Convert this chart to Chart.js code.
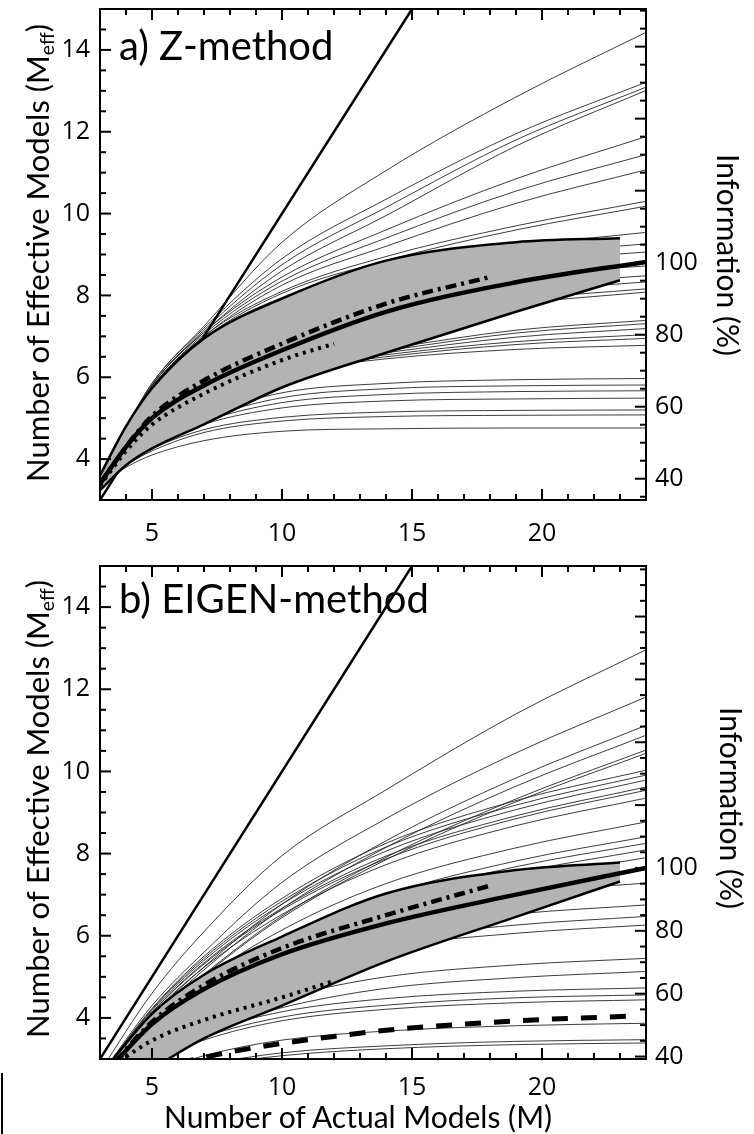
<!DOCTYPE html>
<html>
<head>
<meta charset="utf-8">
<script src="https://cdn.jsdelivr.net/npm/chart.js@4.4.1/dist/chart.umd.min.js"></script>
<style>
  html, body { margin: 0; padding: 0; background: #fff; }
  #wrap { position: relative; width: 754px; height: 1134px; overflow: hidden;
          font-family: Lato, "Open Sans", sans-serif; color: #000; }
  canvas { position: absolute; left: 0; }
  .t { position: absolute; white-space: nowrap; line-height: 1; }
  .rl { transform: translate(-50%, -50%) rotate(-90deg); }
  .rr { transform: translate(-50%, -50%) rotate(90deg); }
  sub { font-size: 62%; vertical-align: -0.28em; line-height: 0; }
  #bar { position: absolute; left: 1px; top: 1073px; width: 2px; height: 61px; background: #000; }
</style>
</head>
<body>
<div id="wrap">
  <canvas id="zChart" width="754" height="556" style="top:0"></canvas>
  <canvas id="eChart" width="754" height="578" style="top:556px"></canvas>

  <div class="t" style="left:119px; top:25px; font-size:40px;">a) Z-method</div>
  <div class="t" style="left:119px; top:578px; font-size:40px;">b) EIGEN-method</div>

  <div class="t rl" style="left:37px; top:253px; font-size:31px;">Number of Effective Models (M<sub>eff</sub>)</div>
  <div class="t rl" style="left:37px; top:809px; font-size:31px;">Number of Effective Models (M<sub>eff</sub>)</div>

  <div class="t rr" style="left:729px; top:255px; font-size:30px;">Information (%)</div>
  <div class="t rr" style="left:732px; top:808px; font-size:30px;">Information (%)</div>

  <div class="t" style="left:358px; top:1101px; font-size:30px; transform:translateX(-50%);">Number of Actual Models (M)</div>
  <div id="bar"></div>
</div>

<script>
// ---- axes -------------------------------------------------------------
const xRange = [3, 24];
const yRange = [3, 15];
const xTicks = [5, 10, 15, 20];
const yTicks = [4, 6, 8, 10, 12, 14];
const infoTicks = [40, 60, 80, 100];
const xMinorStep = 1;
const yMinorStep = 0.5;
const infoMinorStep = 5;

// M_eff that the information scale calls 100 %
const zFullInfo = 8.8;
const eFullInfo = 7.65;

// one-to-one line (M_eff = M)
const identityX = [3, 15];
const identityY = [3, 15];

// ---- a) Z-method ------------------------------------------------------
const zGridX = [3, 4, 5, 7, 10, 14, 19, 24];
const zModels = [
  [3.5, 4.75, 5.85, 7.25, 9.3, 11.05, 12.85, 14.43],
  [3.5, 4.75, 5.85, 7.2, 8.9, 10.35, 11.95, 13.21],
  [3.5, 4.7, 5.8, 7.15, 8.75, 10.15, 11.8, 13.09],
  [3.5, 4.7, 5.8, 7.1, 8.6, 9.95, 11.65, 13.01],
  [3.5, 4.7, 5.8, 7.1, 8.45, 9.6, 10.85, 11.88],
  [3.5, 4.7, 5.75, 7.05, 8.35, 9.4, 10.55, 11.44],
  [3.45, 4.65, 5.75, 7.0, 8.25, 9.2, 10.25, 11.07],
  [3.45, 4.65, 5.7, 7.0, 8.1, 8.95, 9.7, 10.3],
  [3.45, 4.6, 5.7, 6.95, 8.05, 8.85, 9.6, 10.18],
  [3.45, 4.6, 5.7, 6.95, 7.95, 8.7, 9.2, 9.54],
  [3.4, 4.6, 5.65, 6.9, 7.85, 8.55, 8.98, 9.26],
  [3.4, 4.55, 5.6, 6.85, 7.8, 8.45, 8.82, 9.06],
  [3.4, 4.5, 5.45, 6.6, 7.5, 8.1, 8.5, 8.72],
  [3.4, 4.45, 5.35, 6.45, 7.3, 7.9, 8.25, 8.48],
  [3.4, 4.4, 5.25, 6.3, 7.1, 7.7, 8.08, 8.33],
  [3.4, 4.35, 5.15, 6.15, 6.95, 7.5, 7.9, 8.16],
  [3.4, 4.3, 5.1, 6.0, 6.8, 7.4, 7.8, 8.08],
  [3.4, 4.25, 4.95, 5.85, 6.35, 6.7, 7.15, 7.39],
  [3.4, 4.25, 4.95, 5.8, 6.3, 6.65, 7.08, 7.31],
  [3.4, 4.2, 4.9, 5.75, 6.25, 6.6, 6.98, 7.19],
  [3.4, 4.2, 4.9, 5.7, 6.2, 6.55, 6.87, 7.04],
  [3.4, 4.2, 4.85, 5.65, 6.15, 6.5, 6.8, 6.95],
  [3.4, 4.15, 4.8, 5.6, 6.1, 6.45, 6.68, 6.78],
  [3.4, 3.95, 4.4, 5.05, 5.62, 5.85, 5.94, 5.97],
  [3.4, 3.95, 4.38, 4.98, 5.5, 5.72, 5.79, 5.81],
  [3.4, 3.92, 4.35, 4.92, 5.38, 5.58, 5.65, 5.67],
  [3.4, 3.9, 4.3, 4.85, 5.25, 5.42, 5.47, 5.49],
  [3.4, 3.88, 4.25, 4.72, 5.02, 5.15, 5.19, 5.2],
  [3.4, 3.85, 4.2, 4.65, 4.93, 5.04, 5.07, 5.08],
  [3.4, 3.8, 4.1, 4.45, 4.68, 4.74, 4.76, 4.76]
];
const zBandX = [3, 4, 5, 7, 10, 14, 19, 23];
const zBandUpper = [3.6, 4.8, 5.73, 6.95, 7.92, 8.85, 9.3, 9.4];
const zBandLower = [3.24, 3.85, 4.26, 4.85, 5.75, 6.6, 7.6, 8.37];
const zMean = [3.4, 4.3, 5.0, 5.8, 6.66, 7.6, 8.32, 8.82];
const zDashDotX = [3, 4, 5, 7, 10, 14, 18];
const zDashDot = [3.4, 4.3, 5.05, 5.92, 6.82, 7.8, 8.45];
const zDottedX = [3, 4, 5, 7, 10, 12];
const zDotted = [3.35, 4.2, 4.84, 5.6, 6.42, 6.82];

// ---- b) EIGEN-method --------------------------------------------------
const eGridX = [3, 5, 7, 10, 14, 19, 24];
const eModels = [
  [2.7, 4.6, 6.1, 7.95, 9.55, 11.4, 12.96],
  [2.6, 4.3, 5.6, 7.3, 8.85, 10.45, 11.81],
  [2.6, 4.05, 5.24, 6.77, 8.31, 9.84, 11.12],
  [2.6, 4.01, 5.17, 6.66, 8.15, 9.64, 10.88],
  [2.6, 3.95, 5.06, 6.48, 7.91, 9.33, 10.52],
  [2.6, 3.93, 5.03, 6.44, 7.85, 9.26, 10.44],
  [2.6, 4.23, 5.5, 6.91, 8.25, 9.29, 10.03],
  [2.6, 4.21, 5.45, 6.84, 8.16, 9.18, 9.91],
  [2.6, 4.18, 5.4, 6.77, 8.06, 9.07, 9.79],
  [2.6, 4.14, 5.34, 6.67, 7.94, 8.92, 9.62],
  [2.6, 4.13, 5.31, 6.63, 7.87, 8.85, 9.54],
  [2.6, 4.09, 5.23, 6.52, 7.73, 8.68, 9.35],
  [2.5, 3.88, 4.95, 6.14, 7.27, 8.14, 8.77],
  [2.5, 3.8, 4.8, 5.93, 6.99, 7.82, 8.41],
  [2.5, 3.77, 4.74, 5.84, 6.87, 7.68, 8.25],
  [2.5, 3.73, 4.68, 5.74, 6.75, 7.53, 8.09],
  [2.5, 3.69, 4.61, 5.63, 6.6, 7.36, 7.9],
  [2.4, 3.86, 4.84, 5.82, 6.6, 7.04, 7.28],
  [2.4, 3.71, 4.58, 5.45, 6.14, 6.53, 6.75],
  [2.3, 3.55, 4.39, 5.22, 5.89, 6.26, 6.47],
  [2.3, 3.49, 4.28, 5.07, 5.71, 6.06, 6.26],
  [2.2, 3.18, 3.83, 4.48, 5.0, 5.29, 5.45],
  [2.2, 3.08, 3.67, 4.25, 4.72, 4.98, 5.13],
  [2.1, 3.02, 3.63, 4.15, 4.47, 4.65, 4.73],
  [2.1, 2.96, 3.53, 4.02, 4.31, 4.49, 4.56],
  [2.1, 2.92, 3.46, 3.93, 4.21, 4.37, 4.44],
  [2.0, 2.65, 3.08, 3.46, 3.68, 3.81, 3.87],
  [2.0, 2.51, 2.85, 3.15, 3.32, 3.43, 3.47],
  [2.0, 2.49, 2.81, 3.08, 3.25, 3.35, 3.39]
];
const eBandX = [3, 5, 7, 10, 14, 19, 23];
const eBandUpper = [2.6, 4.1, 5.05, 5.98, 7.03, 7.6, 7.78];
const eBandLower = [1.9, 2.75, 3.5, 4.3, 5.37, 6.46, 7.32];
const eMean = [2.5, 3.85, 4.7, 5.55, 6.3, 7.0, 7.65];
const eDashDotX = [3, 5, 7, 10, 14, 18];
const eDashDot = [2.5, 3.9, 4.8, 5.7, 6.5, 7.22];
const eDottedX = [3, 5, 7, 10, 12];
const eDotted = [2.6, 3.45, 3.95, 4.5, 4.9];
const eDashedX = [6, 8, 10, 12, 14, 17, 20, 23.3];
const eDashed = [2.9, 3.17, 3.38, 3.55, 3.7, 3.85, 3.96, 4.04];

// ---- drawing ----------------------------------------------------------
Chart.defaults.font.family = '"Open Sans", Lato, sans-serif';
Chart.defaults.color = '#000';

const pts = (xs, ys) => ys.map((y, i) => ({ x: xs[i], y }));

function curve(data, style) {
  return Object.assign({
    data, pointRadius: 0, fill: false, borderColor: '#000',
    cubicInterpolationMode: 'monotone', borderCapStyle: 'butt'
  }, style);
}

// inward tick marks on all four sides plus the plot frame
const frameTicks = {
  id: 'frameTicks',
  afterDatasetsDraw(chart) {
    const { ctx, chartArea: a, scales } = chart;
    const x = scales.x, y = scales.y, info = scales.info;
    ctx.save();
    ctx.strokeStyle = '#000';
    ctx.lineWidth = 2;
    const seg = (x1, y1, x2, y2) => { ctx.beginPath(); ctx.moveTo(x1, y1); ctx.lineTo(x2, y2); ctx.stroke(); };
    for (let v = Math.ceil(x.min); v <= x.max; v += xMinorStep) {
      const px = x.getPixelForValue(v);
      const len = xTicks.includes(v) ? 11 : 6;
      seg(px, a.bottom, px, a.bottom - len);
      seg(px, a.top, px, a.top + len);
    }
    for (let v = y.min; v <= y.max + 1e-9; v += yMinorStep) {
      const py = y.getPixelForValue(v);
      const len = yTicks.includes(v) ? 11 : 6;
      seg(a.left, py, a.left + len, py);
    }
    for (let v = Math.ceil(info.min / infoMinorStep) * infoMinorStep; v <= info.max; v += infoMinorStep) {
      const py = info.getPixelForValue(v);
      const len = v % 20 === 0 ? 11 : 6;
      seg(a.right, py, a.right - len, py);
    }
    ctx.strokeRect(a.left, a.top, a.right - a.left, a.bottom - a.top);
    ctx.restore();
  }
};

function buildPanel(canvasId, p) {
  const datasets = [];
  p.models.forEach(m => datasets.push(curve(pts(p.gridX, m),
    { borderColor: 'rgba(40,40,40,0.9)', borderWidth: 1, order: 30 })));
  datasets.push(curve(pts(identityX, identityY), { borderWidth: 2.5, order: 25, cubicInterpolationMode: 'default' }));
  datasets.push(curve(pts(p.bandX, p.bandUpper),
    { borderWidth: 2.5, backgroundColor: '#b3b3b3', fill: '+1', order: 10 }));
  datasets.push(curve(pts(p.bandX, p.bandLower), { borderWidth: 2.5, order: 9 }));
  if (p.dashed) {
    datasets.push(curve(pts(p.dashedX, p.dashed), { borderWidth: 5, borderDash: [16, 13], order: 8 }));
  }
  datasets.push(curve(pts(p.dottedX, p.dotted), { borderWidth: 4, borderDash: [3, 5], order: 7 }));
  datasets.push(curve(pts(p.dashDotX, p.dashDot), { borderWidth: 4.5, borderDash: [11, 5, 3, 5], order: 6 }));
  datasets.push(curve(pts(p.gridX, p.mean), { borderWidth: 4.5, order: 5 }));

  const tickFont = { size: 25 };
  return new Chart(document.getElementById(canvasId), {
    type: 'line',
    data: { datasets },
    plugins: [frameTicks],
    options: {
      responsive: false,
      animation: false,
      events: [],
      layout: { padding: { top: p.padTop, left: 0, right: 0, bottom: 0 } },
      plugins: { legend: { display: false }, tooltip: { enabled: false } },
      scales: {
        x: {
          type: 'linear', position: 'bottom', min: xRange[0], max: xRange[1],
          grid: { display: false, drawTicks: false }, border: { display: false },
          ticks: { font: tickFont, padding: p.xPad, maxRotation: 0, autoSkip: false },
          afterBuildTicks: s => { s.ticks = xTicks.map(v => ({ value: v })); },
          afterFit: s => { s.height = p.xHeight; s.paddingLeft = 0; s.paddingRight = 0; }
        },
        y: {
          type: 'linear', position: 'left', min: yRange[0], max: yRange[1],
          grid: { display: false, drawTicks: false }, border: { display: false },
          ticks: { font: tickFont, padding: 10, autoSkip: false },
          afterBuildTicks: s => { s.ticks = yTicks.map(v => ({ value: v })); },
          afterFit: s => { s.width = 100; s.paddingTop = 0; s.paddingBottom = 0; }
        },
        info: {
          type: 'linear', position: 'right',
          min: yRange[0] / p.fullInfo * 100, max: yRange[1] / p.fullInfo * 100,
          grid: { display: false, drawTicks: false }, border: { display: false },
          ticks: { font: tickFont, padding: 9, autoSkip: false },
          afterBuildTicks: s => { s.ticks = infoTicks.map(v => ({ value: v })); },
          afterFit: s => { s.width = 108; s.paddingTop = 0; s.paddingBottom = 0; }
        }
      }
    }
  });
}

buildPanel('zChart', {
  models: zModels, gridX: zGridX, bandX: zBandX, bandUpper: zBandUpper, bandLower: zBandLower,
  mean: zMean, dashDotX: zDashDotX, dashDot: zDashDot, dottedX: zDottedX, dotted: zDotted,
  fullInfo: zFullInfo, padTop: 9, xPad: 19, xHeight: 56
});

buildPanel('eChart', {
  models: eModels, gridX: eGridX, bandX: eBandX, bandUpper: eBandUpper, bandLower: eBandLower,
  mean: eMean, dashDotX: eDashDotX, dashDot: eDashDot, dottedX: eDottedX, dotted: eDotted,
  dashedX: eDashedX, dashed: eDashed,
  fullInfo: eFullInfo, padTop: 10, xPad: 14, xHeight: 75
});
</script>
</body>
</html>
